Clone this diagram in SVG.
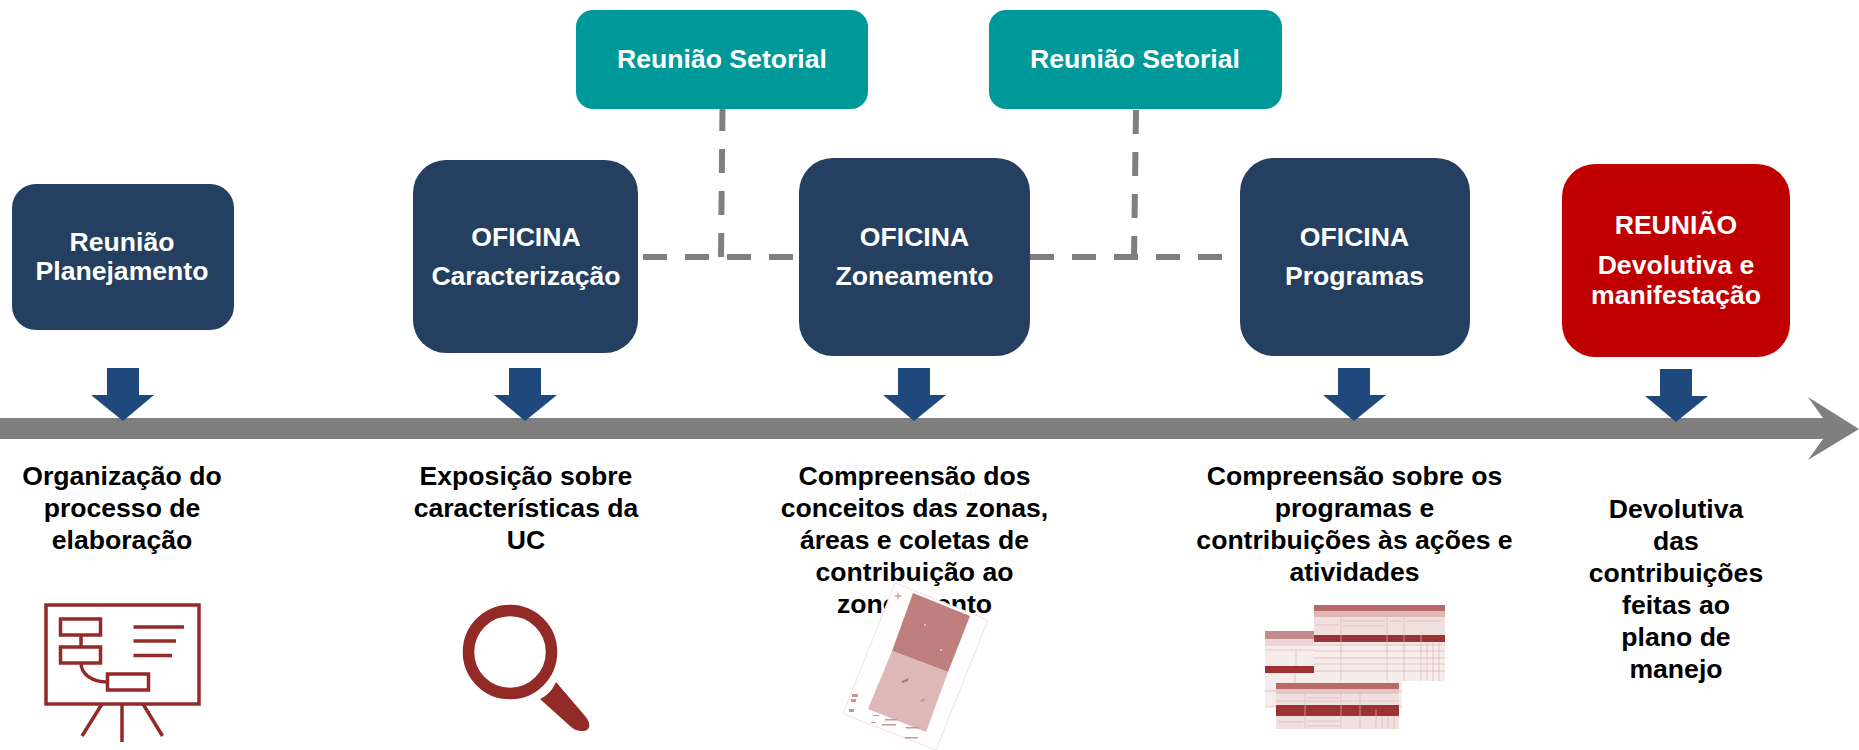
<svg xmlns="http://www.w3.org/2000/svg" width="1859" height="750" viewBox="0 0 1859 750">
<defs><filter id="soft" x="-5%" y="-5%" width="110%" height="110%"><feGaussianBlur stdDeviation="0.6"/></filter></defs>
<style>
text{font-family:"Liberation Sans",Arial,sans-serif;font-weight:700;text-anchor:middle}
.n{fill:#fff;font-size:26.600px}
.d{fill:#000;font-size:26.600px}
.navy{fill:#243F60}
.dash{fill:none;stroke:#7F7F7F;stroke-width:6}
.drop{fill:#1F497D}
.ic{fill:none;stroke:#922B28;stroke-width:3.5}
.ics{fill:#922B28}
.hd{fill:#B96A68}
.dk{fill:#9C3331}
.pl{fill:#F1DFDF}
.gl{stroke:#DDB5B5;stroke-width:.7;fill:none}
</style>
<rect width="1859" height="750" fill="#fff"/>
<g id="connectors">
<path class="dash" stroke-dasharray="24 18" d="M643 257H793"/>
<path class="dash" stroke-dasharray="24 18" d="M1030 257H1222"/>
<path class="dash" stroke-dasharray="24 18" d="M722.500 107L721 257"/>
<path class="dash" stroke-dasharray="24 18" d="M1136 110L1134 258"/>
</g>
<g id="timeline"><path fill="#7F7F7F" d="M0 418H1823L1808 397L1859 429L1808 460L1823 439H0Z"/></g>
<g id="drops">
<path id="drop-1" class="drop" d="M107 368H139V395H154L123 421L91 395H107Z"/>
<path id="drop-2" class="drop" d="M509 368H541V395H557L525 421L494 395H509Z"/>
<path id="drop-3" class="drop" d="M898 368H930V395H946L914 421L883 395H898Z"/>
<path id="drop-4" class="drop" d="M1338 368H1370V395H1386L1354 421L1323 395H1338Z"/>
<path id="drop-5" class="drop" d="M1660 369H1692V396H1708L1676 422L1645 396H1660Z"/>
</g>
<g id="node-planejamento"><rect class="navy" x="12" y="184" width="222" height="146" rx="24"/>
<text class="n" x="122" y="251">Reunião</text><text class="n" x="122" y="280">Planejamento</text></g>
<g id="node-caracterizacao"><rect class="navy" x="413" y="160" width="225" height="193" rx="33"/>
<text class="n" x="526" y="246">OFICINA</text><text class="n" x="526" y="285">Caracterização</text></g>
<g id="node-zoneamento"><rect class="navy" x="799" y="158" width="231" height="198" rx="34"/>
<text class="n" x="914.500" y="246">OFICINA</text><text class="n" x="914.500" y="285">Zoneamento</text></g>
<g id="node-programas"><rect class="navy" x="1240" y="158" width="230" height="198" rx="34"/>
<text class="n" x="1354.500" y="246">OFICINA</text><text class="n" x="1354.500" y="285">Programas</text></g>
<g id="node-devolutiva"><rect fill="#C00000" x="1562" y="164" width="228" height="193" rx="33"/>
<text class="n" x="1676" y="234">REUNIÃO</text><text class="n" x="1676" y="274">Devolutiva e</text><text class="n" x="1676" y="304">manifestação</text></g>
<g id="node-setorial-1"><rect fill="#009999" x="576" y="10" width="292" height="99" rx="17"/>
<text class="n" x="722" y="68">Reunião Setorial</text></g>
<g id="node-setorial-2"><rect fill="#009999" x="989" y="10" width="293" height="99" rx="17"/>
<text class="n" x="1135" y="68">Reunião Setorial</text></g>
<g id="desc-1"><text class="d" x="122" y="485">Organização do</text><text class="d" x="122" y="517">processo de</text><text class="d" x="122" y="549">elaboração</text></g>
<g id="desc-2"><text class="d" x="526" y="485">Exposição sobre</text><text class="d" x="526" y="517">características da</text><text class="d" x="526" y="549">UC</text></g>
<g id="desc-3"><text class="d" x="914.500" y="485">Compreensão dos</text><text class="d" x="914.500" y="517">conceitos das zonas,</text><text class="d" x="914.500" y="549">áreas e coletas de</text><text class="d" x="914.500" y="581">contribuição ao</text><text class="d" x="914.500" y="613">zoneamento</text></g>
<g id="desc-4"><text class="d" x="1354.500" y="485">Compreensão sobre os</text><text class="d" x="1354.500" y="517">programas e</text><text class="d" x="1354.500" y="549">contribuições às ações e</text><text class="d" x="1354.500" y="581">atividades</text></g>
<g id="desc-5"><text class="d" x="1676" y="518">Devolutiva</text><text class="d" x="1676" y="550">das</text><text class="d" x="1676" y="582">contribuições</text><text class="d" x="1676" y="614">feitas ao</text><text class="d" x="1676" y="646">plano de</text><text class="d" x="1676" y="678">manejo</text></g>
<g id="icon-board">
<rect class="ic" x="46" y="605" width="153" height="99"/>
<rect class="ic" x="60.500" y="619" width="40" height="16"/>
<rect class="ic" x="60.500" y="647" width="40" height="16"/>
<rect class="ic" x="107.500" y="674" width="41" height="16"/>
<path class="ic" d="M81 635V647M81 663C81 674 92 682 107 682M133.500 627H184M133.500 641H176M133.500 655.500H172M122 704V742M102 704L82 736M143 704L162.500 736"/>
</g>
<g id="icon-magnifier">
<circle cx="510" cy="652" r="41.500" fill="none" stroke="#922B28" stroke-width="11.500"/>
<path class="ics" d="M556 682L585 716C592 724 590 731 583 731C577 731 573 729 570 726L540 699C548 695 553 689 556 682Z"/>
</g>
<g id="image-map">
<path d="M895 583L988 620L936 750L843 714Z" fill="#FFFDFD" stroke="#F3E0E0" stroke-width="1"/>
<g filter="url(#soft)">
<path d="M913 593L970 616L948 672L892 651Z" fill="#BF7F7E"/>
<path d="M892 651L948 672L926 732L868 709Z" fill="#DDB8B7"/>
<path d="M898 591l1 4l4 1l-4 1l-1 4l-1-4l-4-1l4-1z" fill="#D9A9A9"/>
<path d="M902 681l7-3l-1 3l-6 2z" fill="#B76F6E"/>
<path d="M921 700l4-2l-1 3l-3 1z" fill="#C58E8D"/>
<path d="M852 694h6v3h-6zM851 699h5v3h-5zM849 709h5v3h-5zM873 715h6v1h-6zM885 719h12v1.500h-12zM871 722h5v1h-5zM882 724h14v1.500h-14zM906 727h13v1.500h-13zM905 737h13v1.500h-13z" fill="#C89393"/>
<circle cx="925" cy="625" r="1" fill="#EBD3D2"/><circle cx="941" cy="650" r="1" fill="#EBD3D2"/>
</g>
</g>
<g id="image-tables" filter="url(#soft)">
<g id="table-b">
<rect x="1265" y="631" width="137" height="76" fill="#F6ECEC"/>
<rect x="1265" y="631" width="137" height="8" fill="#C58B8A"/>
<rect x="1265" y="639" width="137" height="7" fill="#EBD5D5"/>
<rect class="dk" x="1265" y="666" width="137" height="7"/>
<path class="gl" d="M1296 650V666M1265 650H1402M1295 673V707M1265 691H1402M1265 707H1402"/>
</g>
<g id="table-a">
<rect x="1314" y="605" width="131" height="76" fill="#F6ECEC"/>
<rect class="hd" x="1314" y="605" width="131" height="6"/>
<rect x="1314" y="611" width="131" height="6" fill="#DDB8B7"/>
<rect class="pl" x="1314" y="617" width="131" height="18"/>
<rect class="dk" x="1314" y="635" width="131" height="7"/>
<path class="gl" d="M1341 617V681M1387 617V681M1404 617V681M1421 635V681M1427 642V681M1433 642V681M1439 642V681M1314 645H1445M1314 651H1445M1314 658H1445M1314 664H1445M1314 671H1445M1343 621H1385M1343 626H1385M1316 625H1339M1389 621H1402M1406 621H1442"/>
</g>
<g id="table-c">
<rect x="1276" y="683" width="123" height="46" fill="#F1E0E0"/>
<rect class="hd" x="1276" y="683" width="123" height="6"/>
<rect x="1276" y="689" width="123" height="5" fill="#E3C6C5"/>
<rect class="dk" x="1276" y="705" width="123" height="11"/>
<path class="gl" d="M1305 694V729M1341 694V729M1360 694V729M1376 709V729M1382 716V729M1388 716V729M1394 716V729M1276 701H1399M1307 698H1339M1278 722H1303M1307 721H1339M1307 726H1339"/>
</g>
</g>
</svg>
